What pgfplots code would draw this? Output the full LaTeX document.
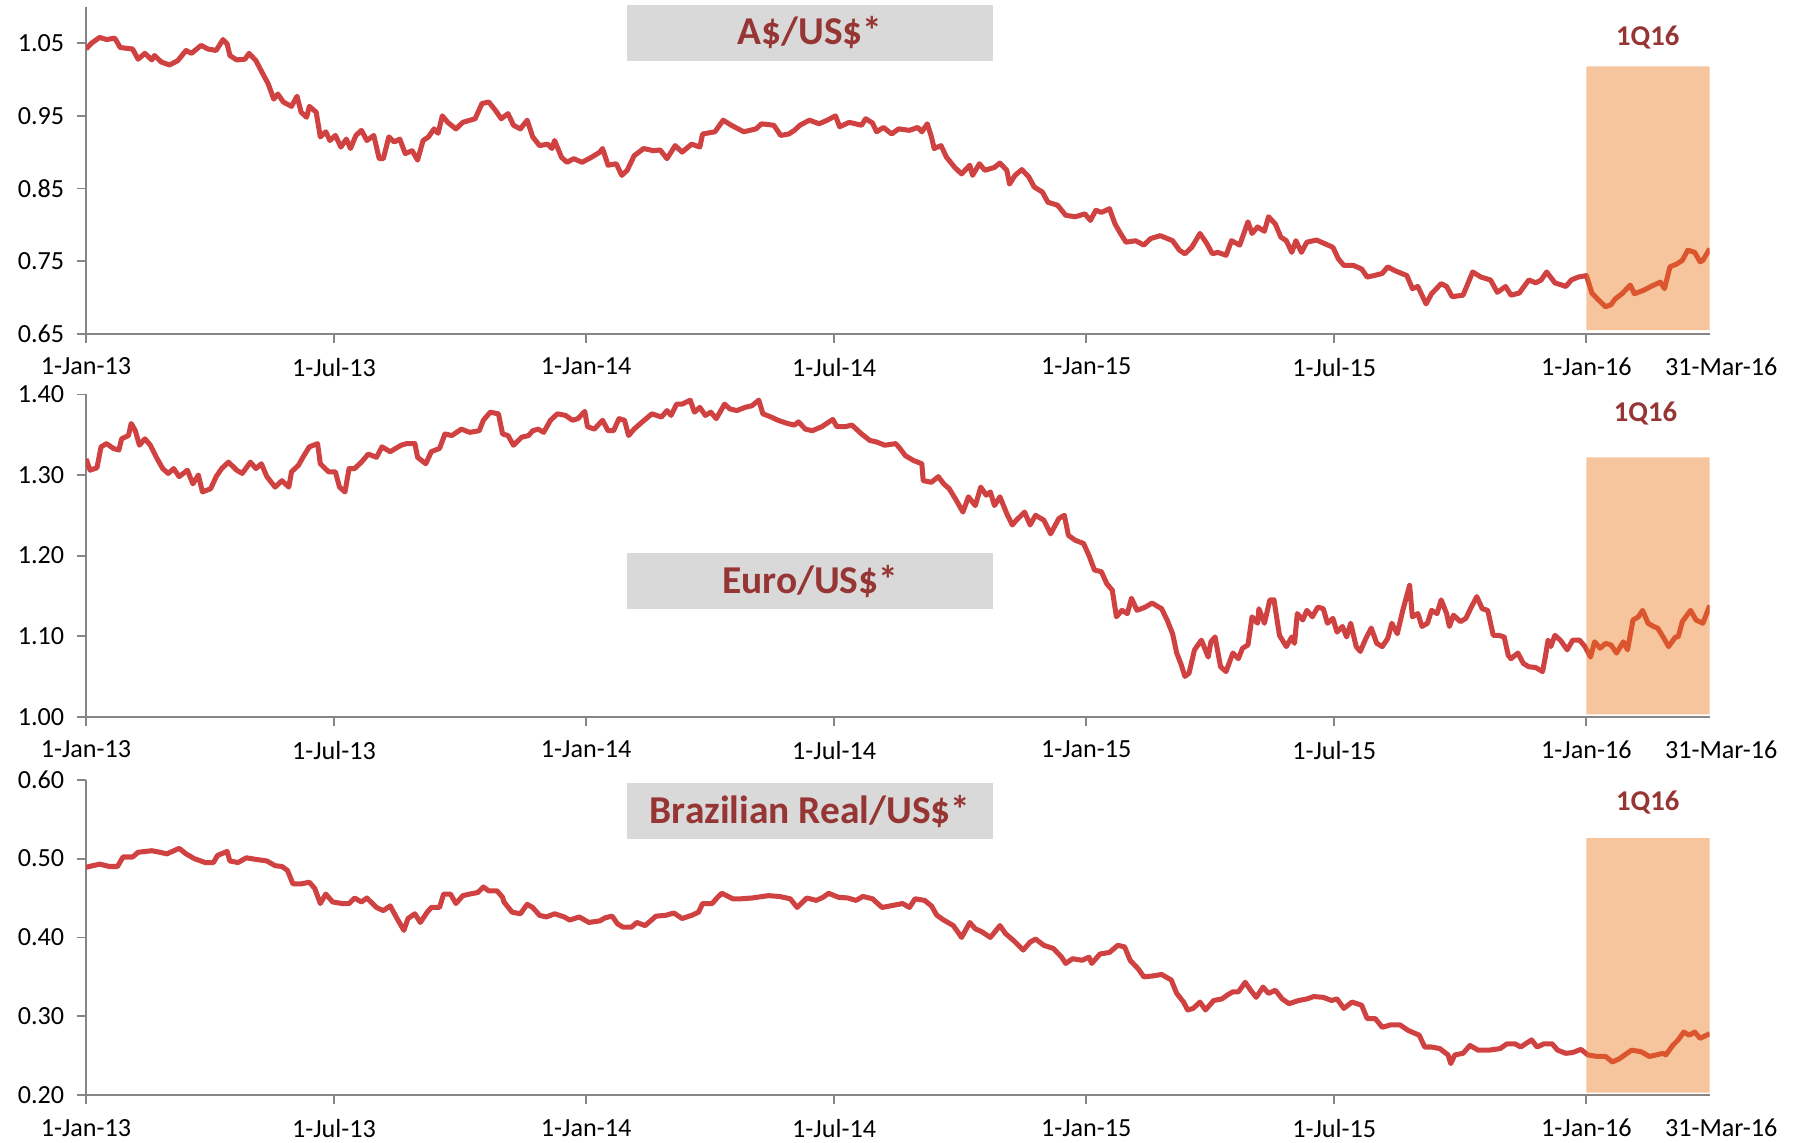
\documentclass[border=0pt]{standalone}
\usepackage{fontspec}
\setmainfont{Carlito}
\usepackage{pgfplots}
\pgfplotsset{compat=1.18}
\definecolor{linered}{RGB}{208,66,66}
\definecolor{titlegray}{RGB}{217,217,217}
\definecolor{titlered}{RGB}{150,54,52}
\definecolor{boxorange}{RGB}{236,116,22}
\definecolor{axisgray}{RGB}{134,134,134}
\pgfplotsset{
  fxpanel/.style={
    scale only axis, width=708pt,
    xmin=0, xmax=1185,
    axis x line*=bottom, axis y line*=left,
    axis line style={draw=axisgray, line width=0.8pt},
    tick style={draw=axisgray, line width=0.8pt},
    major tick length=4pt, tick align=outside,
    xtick={0,181,365,546,730,911,1095},
    xticklabels={1-Jan-13,1-Jul-13,1-Jan-14,1-Jul-14,1-Jan-15,1-Jul-15,1-Jan-16},
    extra x ticks={1185},
    extra x tick labels={31-Mar-16},
    extra x tick style={major tick length=0pt, xticklabel style={xshift=5pt, yshift=-4pt}},
    ticklabel style={font=\fontsize{11.4}{13}\selectfont, text=black},
    xticklabel style={yshift=-3pt},
    yticklabel style={xshift=-2pt, /pgf/number format/fixed, /pgf/number format/fixed zerofill, /pgf/number format/precision=2},
    /pgf/number format/assume math mode=true,
  },
  fxline/.style={line width=2.2pt, color=linered, line join=round, mark=none},
  fxbox/.style={draw=none, fill=boxorange, fill opacity=0.42, mark=none},
}
\begin{document}
\begin{tikzpicture}
% ---------------- Panel 1: A$/US$ ----------------
\begin{axis}[fxpanel, height=142.5pt, at={(0pt,-145.5pt)}, anchor=south west,
  ymin=0.65, ymax=1.10, ytick={0.65,0.75,0.85,0.95,1.05}]
\addplot[fxline] table {
0 1.042
4 1.050
10 1.058
15 1.055
21 1.057
25 1.044
34 1.042
38 1.028
43 1.036
48 1.027
50 1.033
55 1.024
61 1.020
67 1.026
73 1.040
77 1.036
84 1.047
89 1.042
95 1.040
100 1.055
103 1.049
105 1.033
110 1.027
116 1.028
119 1.036
124 1.026
129 1.008
133 0.994
137 0.973
140 0.980
144 0.969
150 0.963
154 0.977
157 0.955
161 0.948
163 0.963
168 0.955
171 0.921
175 0.928
178 0.916
182 0.923
186 0.907
190 0.918
193 0.905
197 0.923
201 0.930
205 0.916
210 0.923
214 0.891
217 0.891
221 0.921
225 0.914
229 0.918
233 0.898
238 0.902
242 0.889
246 0.916
250 0.921
254 0.932
257 0.926
260 0.950
264 0.941
270 0.932
275 0.941
284 0.946
289 0.967
294 0.969
299 0.957
303 0.946
308 0.953
312 0.937
317 0.932
322 0.944
326 0.921
331 0.909
337 0.911
340 0.905
342 0.916
347 0.893
351 0.886
356 0.891
362 0.886
369 0.893
375 0.900
377 0.905
381 0.882
387 0.884
391 0.868
395 0.875
400 0.895
407 0.905
414 0.902
419 0.903
424 0.891
430 0.909
435 0.900
442 0.911
448 0.907
450 0.925
459 0.928
465 0.944
471 0.937
480 0.928
489 0.932
493 0.939
502 0.937
507 0.923
513 0.925
517 0.930
521 0.937
528 0.944
535 0.939
541 0.944
547 0.950
550 0.935
557 0.941
566 0.937
569 0.946
574 0.940
577 0.928
582 0.934
588 0.925
593 0.932
601 0.930
607 0.934
610 0.928
614 0.939
617 0.921
619 0.905
624 0.909
628 0.893
634 0.879
639 0.870
645 0.882
647 0.868
652 0.884
656 0.875
663 0.879
667 0.885
672 0.875
674 0.856
678 0.868
683 0.876
688 0.866
692 0.852
698 0.845
702 0.831
709 0.827
715 0.813
722 0.811
729 0.815
733 0.806
737 0.820
741 0.817
747 0.822
751 0.801
755 0.788
759 0.776
766 0.778
772 0.772
777 0.781
784 0.785
793 0.778
798 0.765
802 0.760
807 0.769
813 0.788
818 0.774
822 0.760
826 0.762
832 0.758
836 0.778
842 0.772
848 0.804
851 0.788
855 0.797
860 0.791
863 0.811
868 0.801
872 0.783
876 0.778
880 0.762
883 0.778
887 0.762
891 0.776
898 0.779
904 0.774
910 0.769
914 0.753
918 0.744
925 0.744
931 0.739
935 0.728
940 0.730
946 0.733
950 0.742
955 0.737
964 0.730
968 0.712
972 0.715
978 0.691
982 0.705
989 0.719
993 0.715
997 0.701
1005 0.703
1012 0.735
1018 0.728
1025 0.724
1030 0.707
1036 0.715
1040 0.703
1046 0.706
1053 0.724
1058 0.720
1062 0.724
1066 0.735
1072 0.720
1077 0.717
1080 0.715
1084 0.724
1089 0.728
1095 0.730
1099 0.706
1103 0.698
1109 0.687
1113 0.690
1116 0.698
1121 0.705
1127 0.717
1130 0.705
1137 0.710
1142 0.715
1149 0.721
1152 0.712
1156 0.742
1161 0.746
1165 0.751
1169 0.765
1174 0.762
1178 0.749
1180 0.751
1185 0.767
};
\addplot[fxbox] coordinates {(1095,0.655) (1185,0.655) (1185,1.018) (1095,1.018) (1095,0.655)};
\end{axis}
% ---------------- Panel 2: Euro/US$ ----------------
\begin{axis}[fxpanel, height=140.5pt, at={(0pt,-312.5pt)}, anchor=south west,
  ymin=1.00, ymax=1.40, ytick={1.00,1.10,1.20,1.30,1.40}]
\addplot[fxline] table {
0 1.320
3 1.306
8 1.309
11 1.335
15 1.339
20 1.333
24 1.331
26 1.345
31 1.349
33 1.364
36 1.355
39 1.337
43 1.345
47 1.337
52 1.320
56 1.308
60 1.302
64 1.308
68 1.298
74 1.306
78 1.289
82 1.300
85 1.279
91 1.283
95 1.298
99 1.308
104 1.316
110 1.306
114 1.302
120 1.316
124 1.308
128 1.314
132 1.298
138 1.285
143 1.293
148 1.285
150 1.304
155 1.312
159 1.324
163 1.335
169 1.339
171 1.314
177 1.304
182 1.304
185 1.285
189 1.279
192 1.308
196 1.308
201 1.316
206 1.326
212 1.322
216 1.335
222 1.329
226 1.333
230 1.337
234 1.339
240 1.339
242 1.322
248 1.314
252 1.329
258 1.333
262 1.351
267 1.349
274 1.357
280 1.353
287 1.355
290 1.368
295 1.378
301 1.376
304 1.351
308 1.349
312 1.337
318 1.347
323 1.349
326 1.355
330 1.357
334 1.353
339 1.368
344 1.376
350 1.374
355 1.368
359 1.370
364 1.379
366 1.360
371 1.357
377 1.368
381 1.355
385 1.355
389 1.370
393 1.368
396 1.349
400 1.357
406 1.366
413 1.376
420 1.372
424 1.380
427 1.374
431 1.388
435 1.388
441 1.393
444 1.378
448 1.384
452 1.374
456 1.378
460 1.370
466 1.388
470 1.382
475 1.380
481 1.384
486 1.386
491 1.393
494 1.376
500 1.372
505 1.368
512 1.364
517 1.362
520 1.366
525 1.357
530 1.355
537 1.360
545 1.369
548 1.360
554 1.360
559 1.362
566 1.351
572 1.343
577 1.341
583 1.337
591 1.339
594 1.333
598 1.324
604 1.318
610 1.314
611 1.293
617 1.291
622 1.298
626 1.289
630 1.283
635 1.269
640 1.254
644 1.273
649 1.262
653 1.285
657 1.275
660 1.279
663 1.262
667 1.273
672 1.252
676 1.238
679 1.244
685 1.254
689 1.238
693 1.250
699 1.244
704 1.227
710 1.246
714 1.250
717 1.225
722 1.219
728 1.215
732 1.200
736 1.182
741 1.180
745 1.165
749 1.157
752 1.124
756 1.132
760 1.128
763 1.147
767 1.132
773 1.136
778 1.141
785 1.134
789 1.120
793 1.103
796 1.079
799 1.066
802 1.050
805 1.054
809 1.083
814 1.095
815 1.091
819 1.074
821 1.093
824 1.099
828 1.062
832 1.056
837 1.079
841 1.072
844 1.085
848 1.089
851 1.124
855 1.116
856 1.134
860 1.116
864 1.145
867 1.145
871 1.101
876 1.087
880 1.099
882 1.091
884 1.128
888 1.120
891 1.132
895 1.124
899 1.136
903 1.134
906 1.116
910 1.122
913 1.105
917 1.112
920 1.099
923 1.116
927 1.087
930 1.081
934 1.097
938 1.110
942 1.091
946 1.087
950 1.097
953 1.116
957 1.103
961 1.132
966 1.163
968 1.124
972 1.128
975 1.112
979 1.116
982 1.132
986 1.128
989 1.145
993 1.128
995 1.112
998 1.126
1003 1.118
1007 1.122
1011 1.136
1015 1.149
1019 1.134
1023 1.132
1027 1.101
1031 1.101
1035 1.099
1038 1.076
1040 1.072
1045 1.079
1049 1.066
1053 1.062
1058 1.061
1063 1.056
1065 1.074
1067 1.095
1069 1.087
1072 1.101
1076 1.095
1081 1.083
1085 1.095
1090 1.095
1094 1.087
1098 1.074
1101 1.093
1105 1.085
1109 1.091
1113 1.089
1117 1.079
1122 1.093
1125 1.083
1129 1.120
1133 1.124
1136 1.132
1140 1.116
1144 1.112
1147 1.110
1151 1.099
1155 1.087
1160 1.099
1162 1.099
1165 1.118
1171 1.132
1175 1.120
1180 1.116
1185 1.138
};
\addplot[fxbox] coordinates {(1095,1.003) (1185,1.003) (1185,1.322) (1095,1.322) (1095,1.003)};
\end{axis}
% ---------------- Panel 3: Brazilian Real/US$ ----------------
\begin{axis}[fxpanel, height=137.5pt, at={(0pt,-477.5pt)}, anchor=south west,
  ymin=0.20, ymax=0.60, ytick={0.20,0.30,0.40,0.50,0.60}]
\addplot[fxline] table {
0 0.489
5 0.491
10 0.493
17 0.490
23 0.490
27 0.502
34 0.502
38 0.508
48 0.510
54 0.508
59 0.506
68 0.513
73 0.506
79 0.500
87 0.495
93 0.495
96 0.504
103 0.509
105 0.497
111 0.495
117 0.501
124 0.499
132 0.497
138 0.491
143 0.490
147 0.485
151 0.468
157 0.468
163 0.470
167 0.462
171 0.443
175 0.455
180 0.445
187 0.443
192 0.443
196 0.450
201 0.445
205 0.450
212 0.438
217 0.434
222 0.440
227 0.424
232 0.409
235 0.424
240 0.430
244 0.419
249 0.432
252 0.438
258 0.438
261 0.455
266 0.455
270 0.443
275 0.453
280 0.455
286 0.457
290 0.464
294 0.459
300 0.459
304 0.451
305 0.445
311 0.432
317 0.430
322 0.442
326 0.438
331 0.428
336 0.426
342 0.430
349 0.426
353 0.422
360 0.426
367 0.419
375 0.421
379 0.425
384 0.427
388 0.417
392 0.413
398 0.413
402 0.419
408 0.415
416 0.427
423 0.428
429 0.431
435 0.424
442 0.428
447 0.432
450 0.443
457 0.443
461 0.451
464 0.456
472 0.449
478 0.449
486 0.450
498 0.453
506 0.452
514 0.449
519 0.438
526 0.450
533 0.447
538 0.451
542 0.456
549 0.451
556 0.450
562 0.447
567 0.452
574 0.449
581 0.438
587 0.440
596 0.443
601 0.438
605 0.449
612 0.447
617 0.440
621 0.428
626 0.422
633 0.415
639 0.400
645 0.419
649 0.411
654 0.407
660 0.400
667 0.415
671 0.405
677 0.396
684 0.384
689 0.394
693 0.398
699 0.390
706 0.386
712 0.375
715 0.367
720 0.373
727 0.371
732 0.375
734 0.367
740 0.379
747 0.381
753 0.390
758 0.388
762 0.371
768 0.360
772 0.350
778 0.351
785 0.353
792 0.346
796 0.329
801 0.318
804 0.308
808 0.310
813 0.318
817 0.308
823 0.320
829 0.322
833 0.327
837 0.331
841 0.331
846 0.343
850 0.333
854 0.324
859 0.337
863 0.329
868 0.333
873 0.322
878 0.316
885 0.320
891 0.322
896 0.325
903 0.324
909 0.320
913 0.322
918 0.310
924 0.318
931 0.314
935 0.297
941 0.297
946 0.286
952 0.289
959 0.289
965 0.282
973 0.276
977 0.261
982 0.261
988 0.259
994 0.251
996 0.240
999 0.251
1005 0.253
1010 0.263
1016 0.257
1024 0.257
1032 0.259
1037 0.265
1043 0.265
1047 0.261
1055 0.270
1059 0.261
1064 0.265
1070 0.265
1074 0.257
1080 0.253
1085 0.254
1091 0.258
1096 0.251
1103 0.249
1109 0.249
1114 0.242
1119 0.246
1123 0.251
1128 0.257
1135 0.255
1141 0.249
1146 0.251
1151 0.253
1153 0.251
1158 0.263
1162 0.270
1166 0.280
1170 0.276
1174 0.280
1178 0.272
1185 0.278
};
\addplot[fxbox] coordinates {(1095,0.203) (1185,0.203) (1185,0.526) (1095,0.526) (1095,0.203)};
\end{axis}
% ---------------- Titles and 1Q16 labels ----------------
\tikzset{fxtitle/.style={fill=titlegray, minimum width=159.5pt, minimum height=24.5pt, inner sep=0pt, text=titlered, font=\fontsize{17.2}{20}\selectfont\bfseries},
  qlabel/.style={text=titlered, font=\fontsize{12.5}{15}\selectfont\bfseries, inner sep=0pt}}
\node[fxtitle] at (315.75pt,-14.25pt) {A\$/US\$*};
\node[fxtitle] at (315.75pt,-253.5pt) {Euro/US\$*};
\node[fxtitle] at (315.75pt,-353.75pt) {Brazilian Real/US\$*};
\node[qlabel] at (681pt,-16.5pt) {1Q16};
\node[qlabel] at (680pt,-180.5pt) {1Q16};
\node[qlabel] at (681pt,-350pt) {1Q16};
\pgfresetboundingbox
\path[use as bounding box] (-37.5pt,0pt) rectangle (746.5pt,-498pt);
\end{tikzpicture}
\end{document}
